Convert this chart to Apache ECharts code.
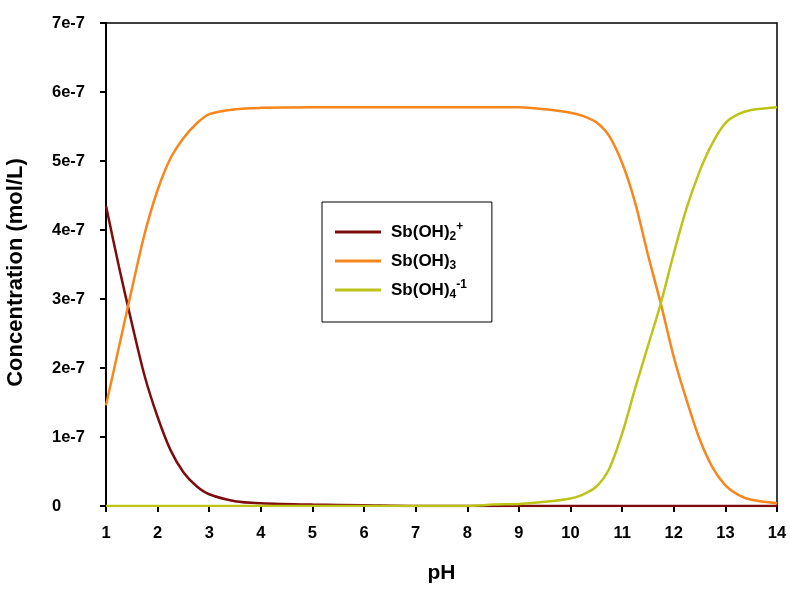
<!DOCTYPE html>
<html>
<head>
<meta charset="utf-8">
<title>Sb(III) speciation vs pH</title>
<script src="https://cdn.jsdelivr.net/npm/echarts@6/dist/echarts.min.js"></script>
<style>
  html, body { margin: 0; padding: 0; background: #fff; }
  #chart { width: 790px; height: 590px; }
</style>
</head>
<body>
<div id="chart"></div>
<script>
// pH sample points shared by all three species
const pH = [1, 1.25, 1.5, 1.75, 2, 2.25, 2.5, 2.75, 3, 3.5, 4, 5, 6, 7, 8, 8.5, 9, 9.5,
            10, 10.25, 10.5, 10.75, 11, 11.25, 11.5, 11.75, 12, 12.25, 12.5, 12.75, 13, 13.25, 13.5, 14];

// Concentrations in units of 1e-7 mol/L
const sbOH2plus = [4.35, 3.47, 2.65, 1.88, 1.29, 0.81, 0.49, 0.29, 0.17, 0.07, 0.04, 0.02, 0.01, 0, 0, 0, 0, 0,
                   0, 0, 0, 0, 0, 0, 0, 0, 0, 0, 0, 0, 0, 0, 0, 0];
const sbOH3     = [1.46, 2.30, 3.14, 3.95, 4.58, 5.04, 5.33, 5.54, 5.68, 5.75, 5.77, 5.78, 5.78, 5.78, 5.78, 5.78, 5.78, 5.75,
                   5.70, 5.65, 5.56, 5.36, 4.97, 4.40, 3.64, 2.93, 2.16, 1.53, 0.97, 0.56, 0.30, 0.16, 0.09, 0.04];
const sbOH4minus = [0, 0, 0, 0, 0, 0, 0, 0, 0, 0, 0, 0, 0, 0, 0, 0.02, 0.03, 0.06,
                    0.11, 0.17, 0.28, 0.54, 1.05, 1.70, 2.32, 2.94, 3.66, 4.32, 4.85, 5.26, 5.55, 5.68, 5.74, 5.78];

const seriesNames = ['Sb(OH)2+', 'Sb(OH)3', 'Sb(OH)4-1'];
const seriesColors = ['#7d0c0c', '#f7861c', '#bcc41a'];
const seriesValues = [sbOH2plus, sbOH3, sbOH4minus];

// Legend labels with chemical subscripts / superscripts
const legendLabels = {
  'Sb(OH)2+': '{b|Sb(OH)}{sub|2}{sup|+}',
  'Sb(OH)3': '{b|Sb(OH)}{sub|3}{sup| }',
  'Sb(OH)4-1': '{b|Sb(OH)}{sub|4}{sup|-1}'
};

const UNIT = 1e-7;
const FONT = '"Liberation Sans", Arial, sans-serif';

const chart = echarts.init(document.getElementById('chart'), null, { renderer: 'canvas' });

chart.setOption({
  animation: false,
  backgroundColor: '#fff',
  grid: {
    left: 106, right: 13, top: 23, bottom: 84,
    show: true, borderColor: '#000', borderWidth: 1.5,
    containLabel: false,
    outerBoundsMode: 'none'
  },
  legend: {
    orient: 'vertical',
    left: 322, top: 202,
    padding: [19, 25, 21, 13],
    itemGap: 7,
    itemWidth: 46,
    itemHeight: 3,
    icon: 'rect',
    borderColor: '#000', borderWidth: 1,
    backgroundColor: '#fff',
    data: seriesNames,
    formatter: name => legendLabels[name],
    textStyle: {
      padding: [0, 0, 0, 5],
      rich: {
        b:   { fontFamily: FONT, fontSize: 17, fontWeight: 'bold', color: '#000', lineHeight: 22, verticalAlign: 'middle' },
        sub: { fontFamily: FONT, fontSize: 12, fontWeight: 'bold', color: '#000', lineHeight: 22, verticalAlign: 'bottom' },
        sup: { fontFamily: FONT, fontSize: 12, fontWeight: 'bold', color: '#000', lineHeight: 22, verticalAlign: 'top' }
      }
    }
  },
  xAxis: {
    type: 'value',
    min: 1, max: 14, interval: 1,
    name: 'pH',
    nameLocation: 'middle',
    nameGap: 57,
    nameTextStyle: { fontFamily: FONT, fontSize: 21, fontWeight: 'bold', color: '#000' },
    axisLine: { show: true, onZero: false, lineStyle: { color: '#000', width: 2 } },
    axisTick: { show: true, inside: false, length: 6, lineStyle: { color: '#000', width: 2 } },
    axisLabel: { fontFamily: FONT, fontSize: 16.5, fontWeight: 'bold', color: '#000', margin: 19 },
    splitLine: { show: false }
  },
  yAxis: {
    type: 'value',
    min: 0, max: 7 * UNIT, interval: UNIT,
    name: 'Concentration (mol/L)',
    nameLocation: 'middle',
    nameGap: 79,
    nameTextStyle: {
      fontFamily: FONT, fontSize: 22, fontWeight: 'bold', color: '#000',
      // nudges the rotated title slightly downward along the axis
      padding: [0, 16, 0, 0]
    },
    axisLine: { show: true, lineStyle: { color: '#000', width: 2 } },
    axisTick: { show: true, inside: false, length: 6, lineStyle: { color: '#000', width: 2 } },
    axisLabel: {
      fontFamily: FONT, fontSize: 16.5, fontWeight: 'bold', color: '#000',
      margin: 54, align: 'left',
      formatter: v => {
        const n = Math.round(v / UNIT);
        return n === 0 ? '0' : n + 'e-7';
      }
    },
    splitLine: { show: false }
  },
  series: seriesNames.map((name, i) => ({
    name,
    type: 'line',
    symbol: 'none',
    smooth: 0.3,
    clip: true,
    color: seriesColors[i],
    lineStyle: { color: seriesColors[i], width: 2.5 },
    data: pH.map((x, k) => [x, seriesValues[i][k] * UNIT])
  }))
});
</script>
</body>
</html>
